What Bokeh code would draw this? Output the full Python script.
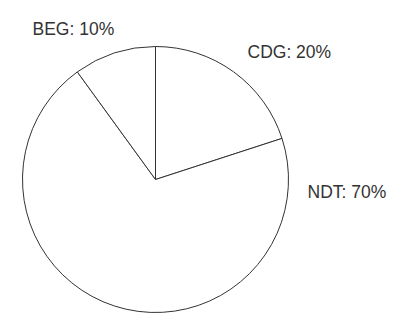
import math
from bokeh.plotting import figure
from bokeh.models import Range1d, ColumnDataSource
from bokeh.core.properties import value
from bokeh.embed import file_html
from bokeh.resources import INLINE

# data
categories = ["CDG", "NDT", "BEG"]
percents = [20, 70, 10]

# layout (page pixels -> data units, y flipped)
W, H = 395, 314
cx, cy, r = 155, H - 179, 133

# wedge angles, clockwise from 12 o'clock
starts, ends = [], []
a = math.pi / 2
total = sum(percents)
for v in percents:
    starts.append(a)
    a -= 2 * math.pi * v / total
    ends.append(a)

src = ColumnDataSource(dict(start=starts, end=ends, cat=categories))

p = figure(width=W, height=H, output_backend="svg", toolbar_location=None,
           x_range=Range1d(0, W), y_range=Range1d(0, H),
           min_border=0)
p.axis.visible = False
p.grid.visible = False
p.outline_line_color = None
p.background_fill_color = "white"
p.border_fill_color = "white"

p.wedge(x=cx, y=cy, radius=r, start_angle="start", end_angle="end",
        direction="clock", fill_color="white", line_color="#333333",
        line_width=1, source=src)

labels = [f"{c}: {v}%" for c, v in zip(categories, percents)]
# label anchors (page px: left edge, baseline)
lx = [247, 307, 32]
ly = [H - 51, H - 191, H - 28]
p.text(x=lx, y=ly, text=labels, text_font=value("Liberation Sans"),
       text_font_size="17.5px", text_color="#333333", text_align="left",
       text_baseline="alphabetic")

open("out.html", "w").write(file_html(p, INLINE))
